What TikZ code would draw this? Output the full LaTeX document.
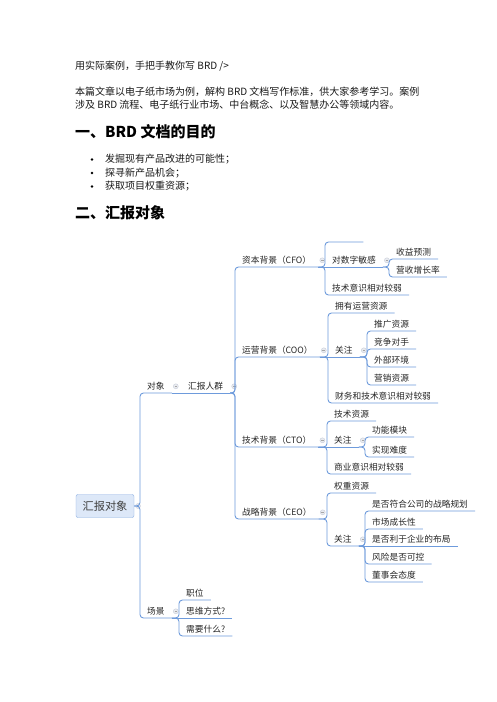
\documentclass[tikz,border=0pt]{standalone}
\usepackage{fontspec}
\setmainfont{Noto Sans CJK SC}
\usepackage{tikz}
\usetikzlibrary{positioning}

\definecolor{mapblue}{RGB}{110,155,220}
\definecolor{rootfill}{RGB}{221,232,248}
\definecolor{knobgray}{RGB}{200,206,218}

% connectors of the mind map
\newcommand{\branch}[2]{\draw[link] (#1.south east) -- (#2.south west |- #1.south east) |- (#2.south east);}
\newcommand{\straight}[2]{\draw[link] (#1.south east) -- (#2.south east);}
\newcommand{\knob}[1]{\node[knob] (#1Knob) at ([xshift=4pt]#1.east) {};}

\begin{document}
\begin{tikzpicture}[x=1pt, y=-1pt,
  body/.style={anchor=west, inner sep=0pt, font=\fontsize{10}{12}\selectfont, text=black!90},
  heading/.style={anchor=west, inner sep=0pt, font=\fontsize{15}{18}\selectfont\bfseries},
  mm/.style={anchor=south west, inner xsep=7pt, inner ysep=2pt, text height=7.5pt, text depth=1.5pt,
    font=\fontsize{8.7}{10}\selectfont, text=black!85},
  link/.style={draw=mapblue, line width=0.9pt, rounded corners=3.5pt},
  knob/.style={circle, minimum size=5pt, inner sep=0pt, draw=knobgray, fill=knobgray!40,
    path picture={\draw[gray!70, line width=0.4pt] ([xshift=1.2pt]path picture bounding box.west) -- ([xshift=-1.2pt]path picture bounding box.east);}}]
\useasboundingbox[fill=white] (0,0) rectangle (496,702);

% Text above the map
\node[body] (intro) at (75,66) {用实际案例，手把手教你写 BRD />};
\node[body] (paraA) at (75,92) {本篇文章以电子纸市场为例，解构 BRD 文档写作标准，供大家参考学习。案例};
\node[body] (paraB) at (75,105) {涉及 BRD 流程、电子纸行业市场、中台概念、以及智慧办公等领域内容。};
\node[heading] (headA) at (75,132) {一、BRD 文档的目的};
\foreach \txt [count=\i] in {发掘现有产品改进的可能性；, 探寻新产品机会；, 获取项目权重资源；} {
  \fill (92,146+13.5*\i) circle (1.4pt);
  \node[body] (item\i) at (105,146+13.5*\i) {\txt};
}
\node[heading] (headB) at (75,213) {二、汇报对象};

% Root
\node[draw=mapblue!80, fill=rootfill, rounded corners=2pt, minimum width=58pt, minimum height=23pt,
  inner sep=0pt, font=\fontsize{11.2}{13}\selectfont, text=black!75] (reportRoot) at (105,506) {汇报对象};
\node[knob] (rootKnob) at (138,506) {};

% First level
\node[mm] (target) at (140,393) {对象};
\node[mm] (scene) at (140,618) {场景};
\draw[link] (reportRoot.east) -- (target.south west |- reportRoot.east) |- (target.south east);
\draw[link] (reportRoot.east) -- (scene.south west |- reportRoot.east) |- (scene.south east);
\knob{target} \knob{scene}

\node[mm] (audience) at (181,393) {汇报人群};
\straight{target}{audience}
\knob{audience}

% Four backgrounds
\node[mm] (cfo) at (235,267) {资本背景（CFO）};
\node[mm] (coo) at (235,357) {运营背景（COO）};
\node[mm] (cto) at (235,447) {技术背景（CTO）};
\node[mm] (ceo) at (235,519) {战略背景（CEO）};
\foreach \n in {cfo,coo,cto,ceo} {\branch{audience}{\n} \knob{\n}}

% CFO
\node[mm, minimum width=38pt] (cfoTop) at (325,242) {};
\node[mm] (cfoNum) at (325,267) {对数字敏感};
\node[mm] (cfoTech) at (325,295) {技术意识相对较弱};
\branch{cfo}{cfoTop} \straight{cfo}{cfoNum} \branch{cfo}{cfoTech}
\knob{cfoNum}
\node[mm] (cfoIncome) at (389,259) {收益预测};
\node[mm] (cfoGrowth) at (389,277) {营收增长率};
\branch{cfoNum}{cfoIncome} \branch{cfoNum}{cfoGrowth}

% COO
\node[mm] (cooRes) at (328,313) {拥有运营资源};
\node[mm] (cooFocus) at (328,357) {关注};
\node[mm] (cooWeak) at (328,403) {财务和技术意识相对较弱};
\branch{coo}{cooRes} \straight{coo}{cooFocus} \branch{coo}{cooWeak}
\knob{cooFocus}
\foreach \txt/\y [count=\i] in {推广资源/331, 竞争对手/349, 外部环境/367, 营销资源/385} {
  \node[mm] (cooItem\i) at (367,\y) {\txt};
  \branch{cooFocus}{cooItem\i}
}

% CTO
\node[mm] (ctoRes) at (327,421) {技术资源};
\node[mm] (ctoFocus) at (327,447) {关注};
\node[mm] (ctoWeak) at (327,474) {商业意识相对较弱};
\branch{cto}{ctoRes} \straight{cto}{ctoFocus} \branch{cto}{ctoWeak}
\knob{ctoFocus}
\node[mm] (ctoModule) at (365,437) {功能模块};
\node[mm] (ctoHard) at (365,457) {实现难度};
\branch{ctoFocus}{ctoModule} \branch{ctoFocus}{ctoHard}

% CEO
\node[mm] (ceoRes) at (327,493) {权重资源};
\node[mm] (ceoFocus) at (327,546) {关注};
\branch{ceo}{ceoRes} \branch{ceo}{ceoFocus}
\knob{ceoFocus}
\node[mm] (ceoPlan) at (365,511) {是否符合公司的战略规划};
\node[mm] (ceoMarket) at (365,529) {市场成长性};
\node[mm] (ceoLayout) at (365,546) {是否利于企业的布局};
\node[mm] (ceoRisk) at (365,564) {风险是否可控};
\node[mm] (ceoBoard) at (365,582) {董事会态度};
\branch{ceoFocus}{ceoPlan} \branch{ceoFocus}{ceoMarket} \straight{ceoFocus}{ceoLayout}
\branch{ceoFocus}{ceoRisk} \branch{ceoFocus}{ceoBoard}

% Scene
\node[mm] (sceneJob) at (179,600) {职位};
\node[mm] (sceneMind) at (179,618) {思维方式?};
\node[mm] (sceneNeed) at (179,636) {需要什么?};
\branch{scene}{sceneJob} \straight{scene}{sceneMind} \branch{scene}{sceneNeed}

\end{tikzpicture}
\end{document}
